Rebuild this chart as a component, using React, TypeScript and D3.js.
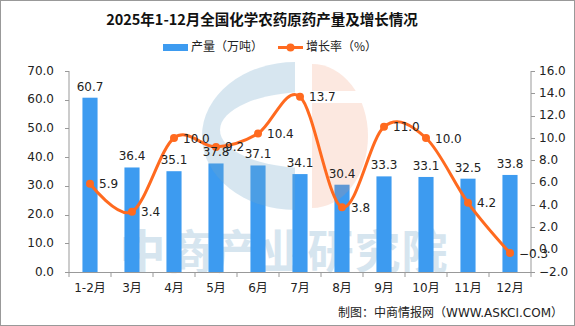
import React from "react";
import * as d3 from "d3";

const categories = ["1-2月", "3月", "4月", "5月", "6月", "7月", "8月", "9月", "10月", "11月", "12月"];
const output = [60.7, 36.4, 35.1, 37.8, 37.1, 34.1, 30.4, 33.3, 33.1, 32.5, 33.8];
const growth = [5.9, 3.4, 10.0, 9.2, 10.4, 13.7, 3.8, 11.0, 10.0, 4.2, -0.3];
const leftTicks = [0, 10, 20, 30, 40, 50, 60, 70];
const rightTicks = [-2, 0, 2, 4, 6, 8, 10, 12, 14, 16];

const W = 575;
const H = 326;
const L = 69;
const R = 531;
const T = 71;
const B = 272;

const BAR = "#3d9bf0";
const LINE = "#ff6a1f";
const AXIS = "#999";
const FONT = "'DejaVu Sans', 'Noto Sans CJK SC', sans-serif";
const CJK = "'Noto Sans CJK SC', sans-serif";

export default function App() {
  const x = d3.scaleBand<string>().domain(categories).range([L, R]).paddingInner(0.64).paddingOuter(0.32);
  const step = (R - L) / categories.length;
  const yL = d3.scaleLinear().domain([0, 70]).range([B, T]);
  const yR = d3.scaleLinear().domain([-2, 16]).range([B, T]);
  const cx = (c: string) => (x(c) as number) + x.bandwidth() / 2;

  const line = d3
    .line<number>()
    .x((_, i) => cx(categories[i]))
    .y((d) => yR(d))
    .curve(d3.curveCatmullRom.alpha(0));

  const fmt = d3.format(".1f");

  // logo geometry
  const lcx = 300, lcy = 136;
  const blueC = `M ${lcx - 5} ${lcy - 74} A 93 74 0 0 0 ${lcx - 5} ${lcy + 74} Z`;
  const peach = `M ${lcx + 12} ${lcy - 72} A 56 72 0 0 1 ${lcx + 12} ${lcy + 72} Z`;

  return (
    <svg width={W} height={H} style={{ display: "block", position: "absolute", left: 0, top: 0 }}>
      <rect x={0.5} y={0.5} width={W - 1} height={H - 1} fill="#fff" stroke="#999" />
      <text x={262} y={25} textAnchor="middle" fontFamily={CJK} fontWeight="bold" fontSize={14.5} fill="#111">
        2025年1-12月全国化学农药原药产量及增长情况
      </text>
      {/* legend */}
      <rect x={163} y={44} width={25} height={7} fill={BAR} />
      <text x={191} y={47.5} dominantBaseline="middle" fontFamily={CJK} fontSize={12} fill="#222">
        产量（万吨）
      </text>
      <line x1={278} x2={303} y1={47.5} y2={47.5} stroke={LINE} strokeWidth={3} />
      <circle cx={290.5} cy={47.5} r={4} fill={LINE} />
      <text x={306} y={47.5} dominantBaseline="middle" fontFamily={CJK} fontSize={12} fill="#222">
        增长率（%）
      </text>

      {/* watermark text */}
      <text x={284} y={268} textAnchor="middle" fontFamily={CJK} fontWeight="bold" fontSize={46} letterSpacing={1} fill="#d6e5ef">
        中商产业研究院
      </text>

      {/* bars */}
      {output.map((v, i) => (
        <rect key={i} x={x(categories[i])} y={yL(v)} width={x.bandwidth()} height={B - yL(v)} fill={BAR} />
      ))}

      {/* logo overlay */}
      <defs>
        <mask id="cmask">
          <rect x={0} y={0} width={W} height={H} fill="#fff" />
          <ellipse cx={lcx + 8} cy={lcy - 6} rx={88} ry={38} fill="#000" />
        </mask>
        <mask id="pmask">
          <rect x={0} y={0} width={W} height={H} fill="#fff" />
          <rect x={lcx + 10} y={91} width={70} height={12} fill="#000" />
        </mask>
      </defs>
      <path d={blueC} fill="rgb(110,165,200)" fillOpacity={0.28} mask="url(#cmask)" />
      <path d={peach} fill="rgb(240,140,100)" fillOpacity={0.2} mask="url(#pmask)" />

      {/* axes */}
      <line x1={L} x2={L} y1={T} y2={B} stroke={AXIS} />
      <line x1={R} x2={R} y1={T} y2={B} stroke={AXIS} />
      <line x1={L} x2={R} y1={B + 0.5} y2={B + 0.5} stroke={AXIS} />
      {leftTicks.map((t) => (
        <g key={"l" + t}>
          <line x1={L - 4} x2={L} y1={Math.round(yL(t)) + 0.5} y2={Math.round(yL(t)) + 0.5} stroke={AXIS} />
          <text x={54} y={yL(t)} textAnchor="end" dominantBaseline="middle" fontFamily={FONT} fontSize={12} fill="#222">
            {fmt(t)}
          </text>
        </g>
      ))}
      {rightTicks.map((t) => (
        <g key={"r" + t}>
          <line x1={R} x2={R + 4} y1={Math.round(yR(t)) + 0.5} y2={Math.round(yR(t)) + 0.5} stroke={AXIS} />
          <text x={539} y={yR(t)} textAnchor="start" dominantBaseline="middle" fontFamily={FONT} fontSize={12} fill="#222">
            {fmt(t)}
          </text>
        </g>
      ))}
      {d3.range(categories.length + 1).map((i) => (
        <line key={"xt" + i} x1={L + i * step} x2={L + i * step} y1={B} y2={B + 5} stroke={AXIS} />
      ))}
      {categories.map((c) => (
        <text key={c} x={cx(c)} y={288} textAnchor="middle" dominantBaseline="middle" fontFamily={FONT} fontSize={12} fill="#222">
          {c}
        </text>
      ))}

      {/* line */}
      <path d={line(growth) as string} fill="none" stroke={LINE} strokeWidth={3} />
      {growth.map((g, i) => (
        <circle key={"p" + i} cx={cx(categories[i])} cy={yR(g)} r={4} fill={LINE} />
      ))}

      {/* bar labels */}
      {output.map((v, i) => (
        <text key={"bl" + i} x={cx(categories[i])} y={yL(v) - 7} textAnchor="middle" fontFamily={FONT} fontSize={12} fill="#222">
          {fmt(v)}
        </text>
      ))}
      {/* line labels */}
      {growth.map((g, i) => (
        <text key={"gl" + i} x={cx(categories[i]) + 9} y={yR(g) + 1} dominantBaseline="middle" fontFamily={FONT} fontSize={12} fill="#222">
          {fmt(g)}
        </text>
      ))}

      <text x={563} y={313} textAnchor="end" dominantBaseline="middle" fontFamily={FONT} fontSize={12} fill="#222">
        制图：中商情报网（WWW.ASKCI.COM）
      </text>
    </svg>
  );
}
